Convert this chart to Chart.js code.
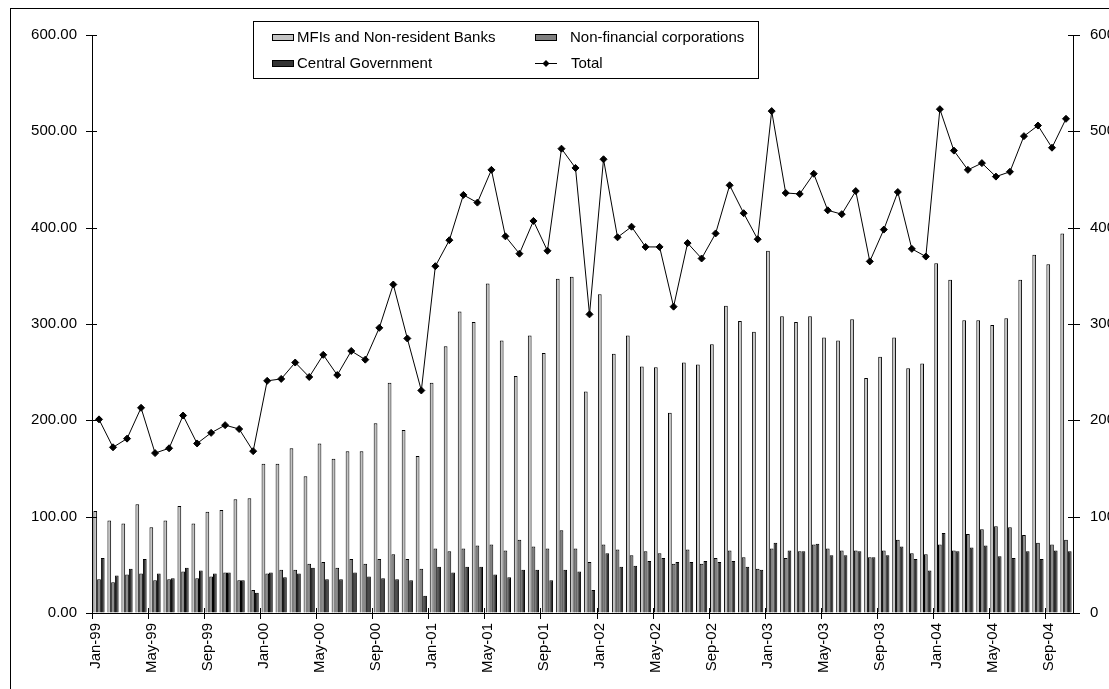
<!DOCTYPE html>
<html><head><meta charset="utf-8">
<script src="https://cdn.jsdelivr.net/npm/chart.js@4.4.1/dist/chart.umd.min.js"></script>
<style>
html,body{margin:0;padding:0;overflow:hidden;background:#fff;width:1109px;height:689px;}
#wrap{position:absolute;left:10px;top:8px;border:1px solid #000;width:1130px;height:700px;}
canvas{display:block;}
</style></head><body>
<div id="wrap"><canvas id="c" width="1130" height="700"></canvas></div>
<script>
const categories = [
 "Jan-99","Feb-99","Mar-99","Apr-99","May-99","Jun-99","Jul-99","Aug-99","Sep-99","Oct-99","Nov-99","Dec-99",
 "Jan-00","Feb-00","Mar-00","Apr-00","May-00","Jun-00","Jul-00","Aug-00","Sep-00","Oct-00","Nov-00","Dec-00",
 "Jan-01","Feb-01","Mar-01","Apr-01","May-01","Jun-01","Jul-01","Aug-01","Sep-01","Oct-01","Nov-01","Dec-01",
 "Jan-02","Feb-02","Mar-02","Apr-02","May-02","Jun-02","Jul-02","Aug-02","Sep-02","Oct-02","Nov-02","Dec-02",
 "Jan-03","Feb-03","Mar-03","Apr-03","May-03","Jun-03","Jul-03","Aug-03","Sep-03","Oct-03","Nov-03","Dec-03",
 "Jan-04","Feb-04","Mar-04","Apr-04","May-04","Jun-04","Jul-04","Aug-04","Sep-04","Oct-04"
];
const mfiBanks = [
 106,96,93,113,89,96,111,93,105,107,118,119,
 155,155,171,142,176,160,168,168,197,239,190,163,
 239,277,313,302,342,283,246,288,270,347,349,230,
 331,269,288,256,255,208,260,258,279,319,303,292,
 376,308,302,308,286,283,305,244,266,286,254,259,
 363,346,304,304,299,306,346,372,362,394
];
const nonFinancial = [
 35,32,40,41,34,35,43,36,38,42,34,24,
 41,45,45,51,53,47,56,51,56,61,56,46,
 67,64,67,70,71,65,76,69,67,86,67,53,
 71,66,60,64,62,51,66,51,57,65,58,46,
 67,57,64,71,67,65,65,58,65,76,62,61,
 71,65,82,87,90,89,81,73,71,76
];
const centralGov = [
 57,39,46,56,41,36,47,44,41,42,34,21,
 42,37,41,47,35,35,42,38,36,35,34,18,
 48,42,48,48,40,37,45,45,34,45,43,24,
 62,48,49,54,57,53,53,54,53,54,48,45,
 73,65,64,72,60,60,64,58,60,69,56,44,
 83,64,68,70,59,57,64,56,65,64
];
const total = [
 201,172,181,213,166,171,205,176,187,195,191,168,
 241,243,260,245,268,247,272,263,296,341,285,231,
 360,387,434,426,460,391,373,407,376,482,462,310,
 471,390,401,380,380,318,384,368,394,444,415,388,
 521,436,435,456,418,414,438,365,398,437,378,370,
 523,480,460,467,453,458,495,506,483,513
];
const leftTicks = [0,100,200,300,400,500,600];

const FONT = "'Liberation Sans', Arial, sans-serif";

const tickPlugin = {
  id: 'crossTicks',
  afterDatasetsDraw(chart) {
    const ctx = chart.ctx;
    const xs = chart.scales.x, ys = chart.scales.y, y2 = chart.scales.y2;
    ctx.save();
    ctx.strokeStyle = '#000';
    ctx.lineWidth = 1;
    ctx.beginPath();
    ys.ticks.forEach((t, i) => {
      const py = Math.round(ys.getPixelForTick(i)) + 0.5;
      ctx.moveTo(ys.right - 6, py); ctx.lineTo(ys.right + 5, py);
    });
    y2.ticks.forEach((t, i) => {
      const py = Math.round(y2.getPixelForTick(i)) + 0.5;
      ctx.moveTo(y2.left - 5, py); ctx.lineTo(y2.left + 7, py);
    });
    const half = (xs.getPixelForValue(1) - xs.getPixelForValue(0)) / 2;
    for (let i = 0; i < categories.length; i += 4) {
      const px = Math.round(xs.getPixelForValue(i) - half) + 0.5;
      ctx.moveTo(px, xs.top - 5); ctx.lineTo(px, xs.top + 6);
    }
    ctx.stroke();
    ctx.restore();
  }
};

const legendPlugin = {
  id: 'boxLegend',
  afterDraw(chart) {
    const ctx = chart.ctx;
    const ds = chart.data.datasets;
    ctx.save();
    const bx = 242, by = 12, bw = 505, bh = 57;
    ctx.fillStyle = '#fff';
    ctx.fillRect(bx, by, bw, bh);
    ctx.strokeStyle = '#000';
    ctx.lineWidth = 1;
    ctx.strokeRect(bx + 0.5, by + 0.5, bw, bh);
    const items = [
      {d: 0, sx: 261, tx: 286, y: 28},
      {d: 1, sx: 524, tx: 559, y: 28},
      {d: 2, sx: 261, tx: 286, y: 54},
      {d: 3, sx: 524, tx: 560, y: 54}
    ];
    ctx.font = '15px ' + FONT;
    ctx.textBaseline = 'middle';
    ctx.textAlign = 'left';
    items.forEach(it => {
      const d = ds[it.d];
      if (d.type === 'line') {
        ctx.beginPath();
        ctx.moveTo(it.sx, it.y + 0.5); ctx.lineTo(it.sx + 22, it.y + 0.5);
        ctx.strokeStyle = '#000'; ctx.stroke();
        const cx = it.sx + 11, cy = it.y + 0.5, r = 3.5;
        ctx.beginPath();
        ctx.moveTo(cx, cy - r); ctx.lineTo(cx + r, cy); ctx.lineTo(cx, cy + r); ctx.lineTo(cx - r, cy); ctx.closePath();
        ctx.fillStyle = '#000'; ctx.fill();
      } else {
        ctx.fillStyle = d.backgroundColor;
        ctx.fillRect(it.sx, it.y - 3, 21, 7);
        ctx.strokeStyle = '#000';
        ctx.strokeRect(it.sx + 0.5, it.y - 2.5, 21, 6);
      }
      ctx.fillStyle = '#000';
      ctx.fillText(d.label, it.tx, it.y + 1);
    });
    ctx.restore();
  }
};

new Chart(document.getElementById('c'), {
  type: 'bar',
  data: {
    labels: categories,
    datasets: [
      {label: 'MFIs and Non-resident Banks', data: mfiBanks, backgroundColor: '#c4c4c4', borderColor: '#000', borderWidth: 1, order: 1, yAxisID: 'y'},
      {label: 'Non-financial corporations', data: nonFinancial, backgroundColor: '#808080', borderColor: '#000', borderWidth: 1, order: 1, yAxisID: 'y'},
      {label: 'Central Government', data: centralGov, backgroundColor: '#333333', borderColor: '#000', borderWidth: 1, order: 1, yAxisID: 'y'},
      {type: 'line', label: 'Total', data: total, borderColor: '#000', borderWidth: 1, pointStyle: 'rectRot', pointRadius: 3.5, pointBackgroundColor: '#000', pointBorderColor: '#000', pointBorderWidth: 1, tension: 0, fill: false, order: 0, yAxisID: 'y'}
    ]
  },
  options: {
    responsive: false,
    animation: false,
    devicePixelRatio: 1,
    categoryPercentage: 0.8,
    barPercentage: 1.0,
    layout: {padding: {top: 23, left: 0, right: 0, bottom: 0}},
    plugins: {legend: {display: false}, tooltip: {enabled: false}},
    scales: {
      x: {
        type: 'category',
        offset: true,
        grid: {display: true, drawOnChartArea: false, drawTicks: false},
        border: {display: true, color: '#000', width: 1},
        ticks: {
          autoSkip: false, maxRotation: 90, minRotation: 90, padding: 10, labelOffset: -3.5,
          color: '#000', font: {family: FONT, size: 15},
          callback: (v, i) => (i % 4 === 0 ? categories[i] : '')
        },
        afterFit: s => { s.height = 96; }
      },
      y: {
        position: 'left', min: leftTicks[0], max: leftTicks[leftTicks.length - 1],
        grid: {display: true, drawOnChartArea: false, drawTicks: false},
        border: {display: true, color: '#000', width: 1},
        afterBuildTicks: s => { s.ticks = leftTicks.map(v => ({value: v})); },
        ticks: {padding: 15, color: '#000', font: {family: FONT, size: 15}, callback: v => Number(v).toFixed(2)},
        afterFit: s => { s.width = 81; }
      },
      y2: {
        position: 'right', min: leftTicks[0], max: leftTicks[leftTicks.length - 1],
        grid: {display: true, drawOnChartArea: false, drawTicks: false},
        border: {display: true, color: '#000', width: 1},
        afterBuildTicks: s => { s.ticks = leftTicks.map(v => ({value: v})); },
        ticks: {padding: 17, color: '#000', font: {family: FONT, size: 15}, callback: v => String(v)},
        afterFit: s => { s.width = 68; }
      }
    }
  },
  plugins: [tickPlugin, legendPlugin]
});
</script>
</body></html>
